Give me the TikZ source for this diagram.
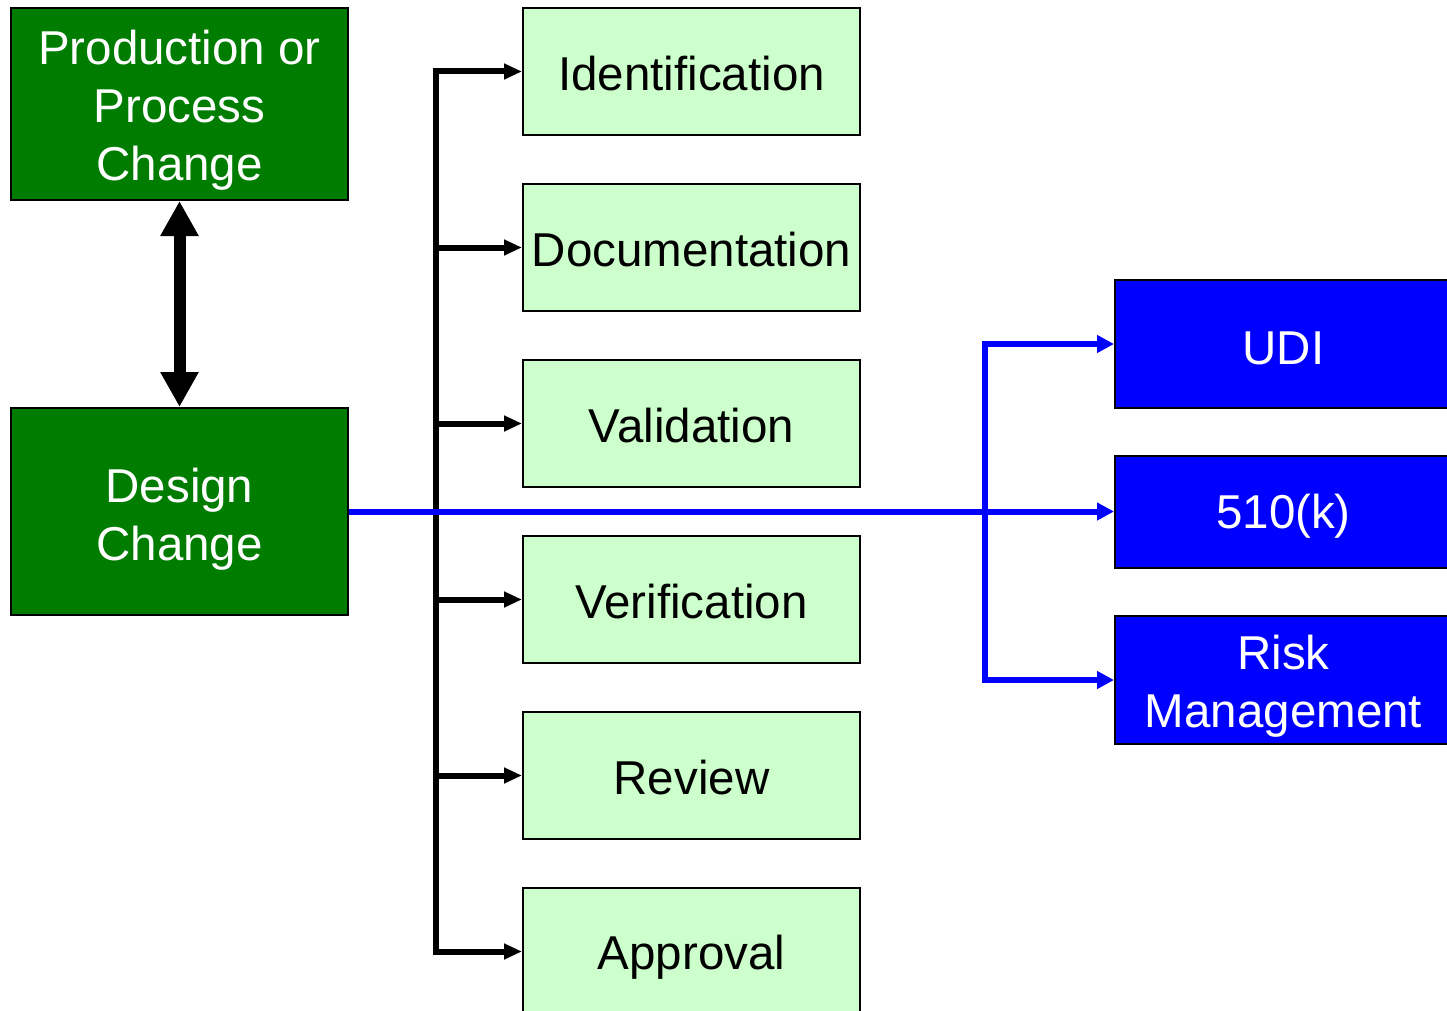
\documentclass[tikz,border=0pt]{standalone}
\usepackage{fontspec}
\setmainfont{Liberation Sans}
\usetikzlibrary{arrows.meta}

\definecolor{darkgreen}{RGB}{0,124,0}
\definecolor{palegreen}{RGB}{204,255,204}
\definecolor{pureblue}{RGB}{0,0,255}

% strut that makes the first line taller, which lowers the text in its box
\newcommand\topstrut[1]{\rule{0pt}{#1}}

\tikzset{
  box/.style={draw=black, line width=2pt, rectangle, inner sep=0pt,
    align=center, font=\fontsize{47.5}{58}\selectfont},
  drop/.style={execute at begin node={\topstrut{#1}}},
  drop/.default=38.5pt,
  changebox/.style={box, fill=darkgreen, text=white,
    minimum width=337pt},
  taskbox/.style={box, fill=palegreen, text=black,
    minimum width=337pt, minimum height=127pt},
  regbox/.style={box, fill=pureblue, text=white,
    minimum width=337pt},
  blkarrow/.style={draw=black, line width=6pt,
    -{Triangle[length=18pt,width=15pt]}},
  bluarrow/.style={draw=pureblue, line width=6pt,
    -{Triangle[length=17pt,width=17pt]}},
  bigarrow/.style={draw=black, line width=12pt,
    {Triangle[length=35pt,width=36pt]}-{Triangle[length=35pt,width=36pt]}}
}

\begin{document}
\begin{tikzpicture}[x=1pt,y=-1pt]
  \useasboundingbox (0,0) rectangle (1447,1011);
  \clip (0,0) rectangle (1447,1011);

  % change type boxes
  \node[changebox, minimum height=192pt] (prod) at (179.5,104)
    {\topstrut{46.5pt}Production or\\Process\\Change};
  \node[changebox, minimum height=207pt] (design) at (179.5,511.5)
    {\topstrut{49pt}Design\\Change};

  % process step boxes
  \node[taskbox, drop] (ident)  at (691.5,71.5)  {Identification};
  \node[taskbox, drop] (doc)    at (691.5,247.5) {Documentation};
  \node[taskbox, drop] (valid)  at (691.5,423.5) {Validation};
  \node[taskbox, drop] (verif)  at (691.5,599.5) {Verification};
  \node[taskbox, drop] (review) at (691.5,775.5) {Review};
  \node[taskbox, drop=46pt] (appr)   at (691.5,951.5) {Approval};

  % regulatory boxes
  \node[regbox, drop=40.5pt, minimum height=128pt] (udi)  at (1283.5,344) {UDI};
  \node[regbox, drop=44.5pt, minimum height=112pt] (k510) at (1283.5,511.5) {510(k)};
  \node[regbox, minimum height=128pt] (risk) at (1283.5,680)
    {\topstrut{46.5pt}Risk\\Management};

  % link between the two change types
  \draw[bigarrow] (prod.south) -- (design.north);

  % black distribution trunk to the process steps
  \coordinate (trunk) at (436,0);
  \draw[blkarrow] (appr.west -| trunk) -- (ident.west -| trunk) -- (ident.west);
  \draw[blkarrow] (ident.west -| trunk) |- (appr.west);
  \draw[blkarrow] (doc.west -| trunk) -- (doc.west);
  \draw[blkarrow] (valid.west -| trunk) -- (valid.west);
  \draw[blkarrow] (verif.west -| trunk) -- (verif.west);
  \draw[blkarrow] (review.west -| trunk) -- (review.west);

  % blue trunk to the regulatory items
  \coordinate (btrunk) at (985,0);
  \draw[bluarrow] (design.east) -- (k510.west);
  \draw[bluarrow] (risk.west -| btrunk) -- (udi.west -| btrunk) -- (udi.west);
  \draw[bluarrow] (udi.west -| btrunk) |- (risk.west);
\end{tikzpicture}
\end{document}
